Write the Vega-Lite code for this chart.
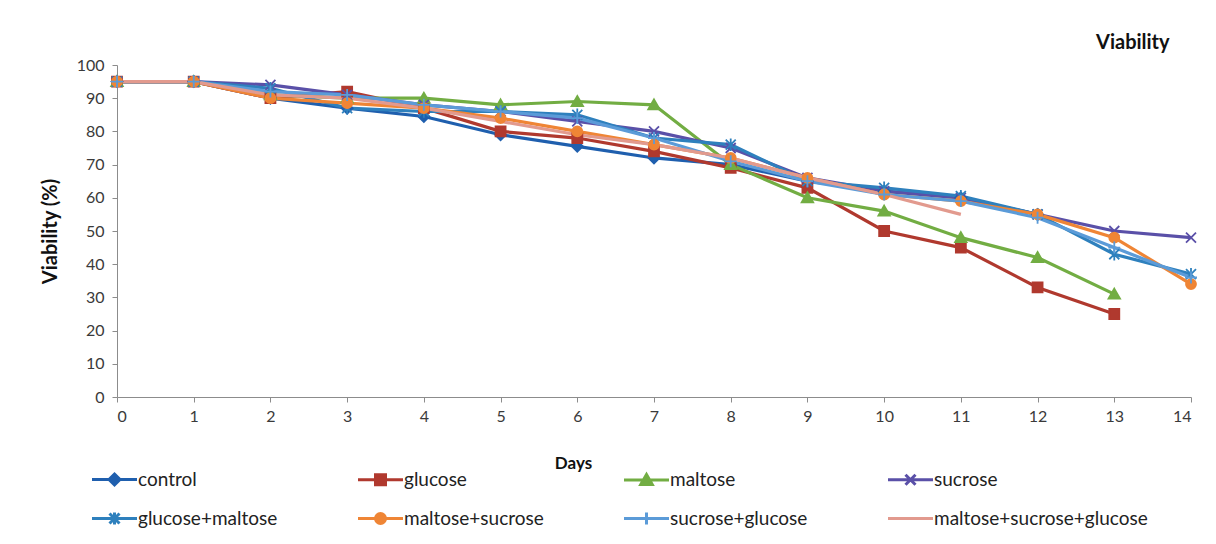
{
  "$schema": "https://vega.github.io/schema/vega-lite/v6.json",
  "width": 1074,
  "height": 332,
  "autosize": {"type": "none"},
  "padding": {"left": 117, "top": 65, "right": 25, "bottom": 147},
  "background": "white",
  "config": {"view": {"stroke": null}},
  "title": {
    "text": "Viability",
    "anchor": "end",
    "orient": "top",
    "font": "Lato",
    "fontSize": 20,
    "fontWeight": "bold",
    "color": "#111111",
    "dx": -31,
    "offset": 4
  },
  "data": {
    "values": [
      {"day": 0, "series": "control", "v": 95}, {"day": 1, "series": "control", "v": 95},
      {"day": 2, "series": "control", "v": 90}, {"day": 3, "series": "control", "v": 87},
      {"day": 4, "series": "control", "v": 84.5}, {"day": 5, "series": "control", "v": 79},
      {"day": 6, "series": "control", "v": 75.5}, {"day": 7, "series": "control", "v": 72},
      {"day": 8, "series": "control", "v": 70}, {"day": 9, "series": "control", "v": 65},
      {"day": 10, "series": "control", "v": 62}, {"day": 11, "series": "control", "v": 60},
      {"day": 12, "series": "control", "v": 55},

      {"day": 0, "series": "glucose", "v": 95}, {"day": 1, "series": "glucose", "v": 95},
      {"day": 2, "series": "glucose", "v": 90}, {"day": 3, "series": "glucose", "v": 92},
      {"day": 4, "series": "glucose", "v": 87}, {"day": 5, "series": "glucose", "v": 80},
      {"day": 6, "series": "glucose", "v": 78}, {"day": 7, "series": "glucose", "v": 74},
      {"day": 8, "series": "glucose", "v": 69}, {"day": 9, "series": "glucose", "v": 63},
      {"day": 10, "series": "glucose", "v": 50}, {"day": 11, "series": "glucose", "v": 45},
      {"day": 12, "series": "glucose", "v": 33}, {"day": 13, "series": "glucose", "v": 25},

      {"day": 0, "series": "maltose", "v": 95}, {"day": 1, "series": "maltose", "v": 95},
      {"day": 2, "series": "maltose", "v": 91}, {"day": 3, "series": "maltose", "v": 90},
      {"day": 4, "series": "maltose", "v": 90}, {"day": 5, "series": "maltose", "v": 88},
      {"day": 6, "series": "maltose", "v": 89}, {"day": 7, "series": "maltose", "v": 88},
      {"day": 8, "series": "maltose", "v": 70}, {"day": 9, "series": "maltose", "v": 60},
      {"day": 10, "series": "maltose", "v": 56}, {"day": 11, "series": "maltose", "v": 48},
      {"day": 12, "series": "maltose", "v": 42}, {"day": 13, "series": "maltose", "v": 31},

      {"day": 0, "series": "sucrose", "v": 95}, {"day": 1, "series": "sucrose", "v": 95},
      {"day": 2, "series": "sucrose", "v": 94}, {"day": 3, "series": "sucrose", "v": 91},
      {"day": 4, "series": "sucrose", "v": 88}, {"day": 5, "series": "sucrose", "v": 86},
      {"day": 6, "series": "sucrose", "v": 83}, {"day": 7, "series": "sucrose", "v": 80},
      {"day": 8, "series": "sucrose", "v": 75}, {"day": 9, "series": "sucrose", "v": 66},
      {"day": 10, "series": "sucrose", "v": 62}, {"day": 11, "series": "sucrose", "v": 60},
      {"day": 12, "series": "sucrose", "v": 55}, {"day": 13, "series": "sucrose", "v": 50},
      {"day": 14, "series": "sucrose", "v": 48},

      {"day": 0, "series": "glucose+maltose", "v": 95}, {"day": 1, "series": "glucose+maltose", "v": 95},
      {"day": 2, "series": "glucose+maltose", "v": 93}, {"day": 3, "series": "glucose+maltose", "v": 87},
      {"day": 4, "series": "glucose+maltose", "v": 86}, {"day": 5, "series": "glucose+maltose", "v": 86},
      {"day": 6, "series": "glucose+maltose", "v": 85}, {"day": 7, "series": "glucose+maltose", "v": 78},
      {"day": 8, "series": "glucose+maltose", "v": 76}, {"day": 9, "series": "glucose+maltose", "v": 65},
      {"day": 10, "series": "glucose+maltose", "v": 63}, {"day": 11, "series": "glucose+maltose", "v": 60.5},
      {"day": 12, "series": "glucose+maltose", "v": 55}, {"day": 13, "series": "glucose+maltose", "v": 43},
      {"day": 14, "series": "glucose+maltose", "v": 37},

      {"day": 0, "series": "maltose+sucrose", "v": 95}, {"day": 1, "series": "maltose+sucrose", "v": 95},
      {"day": 2, "series": "maltose+sucrose", "v": 90}, {"day": 3, "series": "maltose+sucrose", "v": 88.5},
      {"day": 4, "series": "maltose+sucrose", "v": 87}, {"day": 5, "series": "maltose+sucrose", "v": 84},
      {"day": 6, "series": "maltose+sucrose", "v": 80}, {"day": 7, "series": "maltose+sucrose", "v": 76},
      {"day": 8, "series": "maltose+sucrose", "v": 72}, {"day": 9, "series": "maltose+sucrose", "v": 66},
      {"day": 10, "series": "maltose+sucrose", "v": 61}, {"day": 11, "series": "maltose+sucrose", "v": 59},
      {"day": 12, "series": "maltose+sucrose", "v": 55}, {"day": 13, "series": "maltose+sucrose", "v": 48},
      {"day": 14, "series": "maltose+sucrose", "v": 34},

      {"day": 0, "series": "sucrose+glucose", "v": 95}, {"day": 1, "series": "sucrose+glucose", "v": 95},
      {"day": 2, "series": "sucrose+glucose", "v": 92}, {"day": 3, "series": "sucrose+glucose", "v": 91},
      {"day": 4, "series": "sucrose+glucose", "v": 88}, {"day": 5, "series": "sucrose+glucose", "v": 86},
      {"day": 6, "series": "sucrose+glucose", "v": 84}, {"day": 7, "series": "sucrose+glucose", "v": 78},
      {"day": 8, "series": "sucrose+glucose", "v": 71}, {"day": 9, "series": "sucrose+glucose", "v": 65},
      {"day": 10, "series": "sucrose+glucose", "v": 61}, {"day": 11, "series": "sucrose+glucose", "v": 59},
      {"day": 12, "series": "sucrose+glucose", "v": 54}, {"day": 13, "series": "sucrose+glucose", "v": 45},
      {"day": 14, "series": "sucrose+glucose", "v": 36},

      {"day": 0, "series": "maltose+sucrose+glucose", "v": 95}, {"day": 1, "series": "maltose+sucrose+glucose", "v": 95},
      {"day": 2, "series": "maltose+sucrose+glucose", "v": 91}, {"day": 3, "series": "maltose+sucrose+glucose", "v": 90},
      {"day": 4, "series": "maltose+sucrose+glucose", "v": 87}, {"day": 5, "series": "maltose+sucrose+glucose", "v": 83},
      {"day": 6, "series": "maltose+sucrose+glucose", "v": 79}, {"day": 7, "series": "maltose+sucrose+glucose", "v": 76},
      {"day": 8, "series": "maltose+sucrose+glucose", "v": 72}, {"day": 9, "series": "maltose+sucrose+glucose", "v": 66},
      {"day": 10, "series": "maltose+sucrose+glucose", "v": 61}, {"day": 11, "series": "maltose+sucrose+glucose", "v": 55}
    ]
  },
  "encoding": {
    "x": {
      "field": "day",
      "type": "quantitative",
      "scale": {"domain": [0, 14], "nice": false, "zero": false},
      "axis": {
        "title": "Days",
        "values": [0, 1, 2, 3, 4, 5, 6, 7, 8, 9, 10, 11, 12, 13, 14],
        "format": "d",
        "grid": false,
        "domainColor": "#8c8c8c",
        "tickColor": "#8c8c8c",
        "tickSize": 5,
        "labelFont": "Lato",
        "labelFontSize": 16,
        "labelColor": "#3a3a3a",
        "labelPadding": 6,
        "titleFont": "Lato",
        "titleFontSize": 17,
        "titleFontWeight": "bold",
        "titleColor": "#111111",
        "titleX": 456,
        "titlePadding": 31
      }
    },
    "y": {
      "field": "v",
      "type": "quantitative",
      "scale": {"domain": [0, 100], "nice": false},
      "axis": {
        "title": "Viability (%)",
        "values": [0, 10, 20, 30, 40, 50, 60, 70, 80, 90, 100],
        "grid": false,
        "domainColor": "#8c8c8c",
        "tickColor": "#8c8c8c",
        "tickSize": 5,
        "labelFont": "Lato",
        "labelFontSize": 16,
        "labelColor": "#3a3a3a",
        "labelPadding": 8,
        "titleFont": "Lato",
        "titleFontSize": 20,
        "titleFontWeight": "bold",
        "titleColor": "#111111",
        "titlePadding": 16
      }
    }
  },
  "layer": [
    {
      "mark": {"type": "line", "strokeWidth": 3.2},
      "encoding": {
        "color": {
          "field": "series",
          "type": "nominal",
          "scale": {
            "domain": ["control", "glucose", "maltose", "sucrose", "glucose+maltose", "maltose+sucrose", "sucrose+glucose", "maltose+sucrose+glucose"],
            "range": ["#1f5fae", "#b0392e", "#72ad43", "#5a50a8", "#2e80bd", "#ef8535", "#5b9bd8", "#e29a8e"]
          },
          "legend": {
            "title": null,
            "orient": "none",
            "legendX": -12,
            "legendY": 405,
            "direction": "horizontal",
            "columns": 4,
            "columnPadding": 74,
            "rowPadding": 15,
            "symbolSize": 100,
            "symbolStrokeWidth": 3,
            "labelFont": "Lato",
            "labelFontSize": 19,
            "labelColor": "#222222",
            "labelOffset": 14,
            "labelLimit": 400,
            "encode": {
              "symbols": {
                "update": {
                  "shape": {"signal": "datum.value === 'control' ? 'M-4.5,0H4.5M0,-1.1L1.1,0L0,1.1L-1.1,0Z' : datum.value === 'glucose' ? 'M-4.5,0H4.5M-1,-1H1V1H-1Z' : datum.value === 'maltose' ? 'M-4.5,0H4.5M0,-1.1L1.15,0.9H-1.15Z' : datum.value === 'sucrose' ? 'M-4.5,0H4.5M-1,-1L1,1M-1,1L1,-1' : datum.value === 'glucose+maltose' ? 'M-4.5,0H4.5M-1,-1L1,1M-1,1L1,-1M0,-1.2V1.2' : datum.value === 'maltose+sucrose' ? 'M-4.5,0H4.5M-1,0A1,1 0 1,0 1,0A1,1 0 1,0 -1,0Z' : datum.value === 'sucrose+glucose' ? 'M-4.5,0H4.5M0,-1.2V1.2' : 'M-4.5,0H4.5'"},
                  "fill": {"signal": "scale('color', datum.value)"},
                  "stroke": {"signal": "scale('color', datum.value)"},
                  "strokeWidth": {"value": 3}
                }
              }
            }
          }
        }
      }
    },
    {
      "transform": [{"filter": "datum.series !== 'maltose+sucrose+glucose'"}],
      "mark": {"type": "point", "filled": true, "size": 100, "strokeWidth": 1.8, "opacity": 1},
      "encoding": {
        "fill": {
          "field": "series",
          "type": "nominal",
          "scale": {
            "domain": ["control", "glucose", "maltose", "sucrose", "glucose+maltose", "maltose+sucrose", "sucrose+glucose"],
            "range": ["#1f5fae", "#b0392e", "#72ad43", "#5a50a8", "#2e80bd", "#ef8535", "#5b9bd8"]
          },
          "legend": null
        },
        "stroke": {
          "field": "series",
          "type": "nominal",
          "scale": {
            "domain": ["control", "glucose", "maltose", "sucrose", "glucose+maltose", "maltose+sucrose", "sucrose+glucose"],
            "range": ["#1f5fae", "#b0392e", "#72ad43", "#5a50a8", "#2e80bd", "#ef8535", "#5b9bd8"]
          },
          "legend": null
        },
        "shape": {
          "field": "series",
          "type": "nominal",
          "scale": {
            "domain": ["control", "glucose", "maltose", "sucrose", "glucose+maltose", "maltose+sucrose", "sucrose+glucose"],
            "range": [
              "M0,-1.1L1.1,0L0,1.1L-1.1,0Z",
              "M-1,-1H1V1H-1Z",
              "M0,-1.1L1.15,0.9H-1.15Z",
              "M-1,-1L1,1M-1,1L1,-1",
              "M-1,-1L1,1M-1,1L1,-1M0,-1.25V1.25",
              "M-1,0A1,1 0 1,0 1,0A1,1 0 1,0 -1,0Z",
              "M0,-1.2V1.2M-1.2,0H1.2"
            ]
          },
          "legend": null
        }
      }
    }
  ]
}
